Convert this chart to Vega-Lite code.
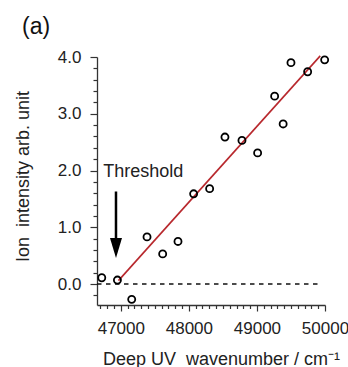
{
  "$schema": "https://vega.github.io/schema/vega-lite/v6.json",
  "width": 228,
  "height": 248,
  "autosize": {"type": "none"},
  "padding": {"left": 97, "top": 57, "right": 23, "bottom": 62},
  "background": "white",
  "config": {"view": {"stroke": null}, "font": "Liberation Sans"},
  "title": {"text": "(a)", "anchor": "start", "frame": "group", "dx": -75, "dy": 13, "baseline": "alphabetic", "fontSize": 23, "fontWeight": "normal", "color": "#111", "font": "Liberation Sans"},
  "datasets": {
    "points": [
      {"x": 46720, "y": 0.11}, {"x": 46950, "y": 0.07}, {"x": 47160, "y": -0.27},
      {"x": 47385, "y": 0.83}, {"x": 47615, "y": 0.53}, {"x": 47840, "y": 0.75},
      {"x": 48070, "y": 1.59}, {"x": 48305, "y": 1.68}, {"x": 48530, "y": 2.59},
      {"x": 48780, "y": 2.53}, {"x": 49010, "y": 2.31}, {"x": 49260, "y": 3.31},
      {"x": 49385, "y": 2.82}, {"x": 49500, "y": 3.9}, {"x": 49745, "y": 3.74},
      {"x": 49995, "y": 3.95}
    ],
    "fit": [{"x": 46965, "y": 0.06}, {"x": 49930, "y": 4.02}],
    "zero": [{"x": 46650, "x2": 49900, "y": 0}],
    "shaft": [{"x": 46929, "y": 1.63, "y2": 0.75}],
    "head": [{"x": 46929, "y": 0.635}],
    "label": [{"x": 46743, "y": 1.89, "t": "Threshold"}]
  },
  "encoding": {
    "x": {
      "field": "x", "type": "quantitative",
      "scale": {"domain": [46650, 50000], "nice": false, "zero": false},
      "axis": {
        "title": "Deep UV\u00a0 wavenumber / cm⁻¹",
        "values": [46700, 46800, 46900, 47000, 47100, 47200, 47300, 47400, 47500, 47600, 47700, 47800, 47900, 48000, 48100, 48200, 48300, 48400, 48500, 48600, 48700, 48800, 48900, 49000, 49100, 49200, 49300, 49400, 49500, 49600, 49700, 49800, 49900, 50000],
        "format": "d",
        "labelExpr": "datum.value % 1000 === 0 ? datum.label : ''",
        "tickSize": {"condition": {"test": "datum.value % 1000 === 0", "value": 6}, "value": 3.5},
        "labelFontSize": 17, "labelPadding": 9, "labelOverlap": false, "labelFlush": false,
        "grid": false, "domainColor": "#333", "tickColor": "#333", "domainWidth": 1.3, "tickWidth": 1.2,
        "labelColor": "#222", "titleFontSize": 18, "titleFontWeight": "normal", "titleColor": "#222",
        "titleX": 124, "titleY": 59, "titleBaseline": "alphabetic", "titleAlign": "center"
      }
    },
    "y": {
      "field": "y", "type": "quantitative",
      "scale": {"domain": [-0.37, 4.0], "nice": false, "zero": false},
      "axis": {
        "title": "Ion\u00a0 intensity arb. unit",
        "values": [-0.2, 0, 0.2, 0.4, 0.6, 0.8, 1, 1.2, 1.4, 1.6, 1.8, 2, 2.2, 2.4, 2.6, 2.8, 3, 3.2, 3.4, 3.6, 3.8, 4],
        "format": ".1f",
        "labelExpr": "abs(datum.value - round(datum.value)) < 0.001 ? datum.label : ''",
        "tickSize": {"condition": {"test": "abs(datum.value - round(datum.value)) < 0.001", "value": 7}, "value": 4},
        "labelFontSize": 17, "labelPadding": 9, "labelOverlap": false, "labelFlush": false,
        "grid": false, "domainColor": "#333", "tickColor": "#333", "domainWidth": 1.3, "tickWidth": 1.2,
        "labelColor": "#222", "titleFontSize": 18, "titleFontWeight": "normal", "titleColor": "#222",
        "titleX": -69, "titleY": 119, "titleAngle": -90, "titleBaseline": "alphabetic", "titleAlign": "center"
      }
    }
  },
  "layer": [
    {
      "data": {"name": "zero"},
      "mark": {"type": "rule", "color": "#111", "strokeWidth": 1.5, "strokeDash": [4.5, 4.5]},
      "encoding": {"x2": {"field": "x2"}}
    },
    {
      "data": {"name": "fit"},
      "mark": {"type": "line", "color": "#b8282d", "strokeWidth": 1.6},
      "encoding": {}
    },
    {
      "data": {"name": "shaft"},
      "mark": {"type": "rule", "color": "#000", "strokeWidth": 2.5},
      "encoding": {"y2": {"field": "y2"}}
    },
    {
      "data": {"name": "head"},
      "mark": {"type": "point", "shape": "M-0.6,-1L0.6,-1L0,1Z", "size": 400, "filled": true, "color": "#000", "opacity": 1}
    },
    {
      "data": {"name": "points"},
      "mark": {"type": "point", "shape": "circle", "size": 50, "filled": false, "color": "#000", "strokeWidth": 1.8, "opacity": 1}
    },
    {
      "data": {"name": "label"},
      "mark": {"type": "text", "align": "left", "baseline": "alphabetic", "fontSize": 18, "color": "#222"},
      "encoding": {"text": {"field": "t"}}
    }
  ]
}
